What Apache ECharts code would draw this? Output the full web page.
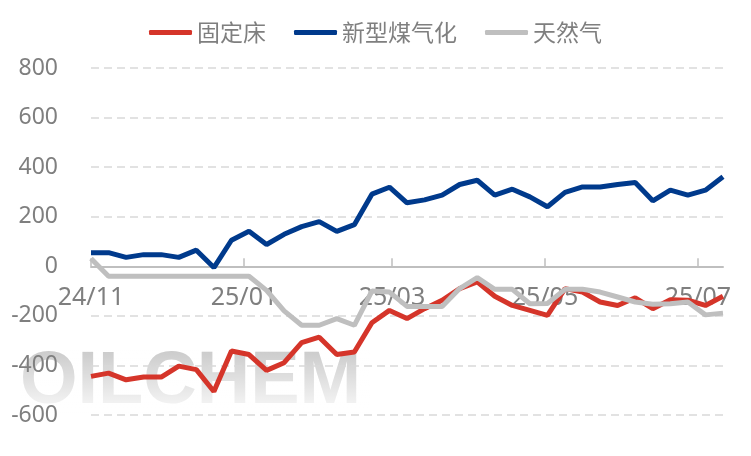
<!DOCTYPE html>
<html>
<head>
<meta charset="utf-8">
<script src="https://cdn.jsdelivr.net/npm/echarts@6/dist/echarts.min.js"></script>
<style>
html,body{margin:0;padding:0;background:#fff;}
#chart{width:751px;height:456px;}
</style>
</head>
<body>
<div id="chart"></div>
<script>
// Weekly dates
const dates = [
  '2024-11-01','2024-11-08','2024-11-15','2024-11-22','2024-11-29',
  '2024-12-06','2024-12-13','2024-12-20','2024-12-27',
  '2025-01-03','2025-01-10','2025-01-17','2025-01-24','2025-01-31',
  '2025-02-07','2025-02-14','2025-02-21','2025-02-28',
  '2025-03-07','2025-03-14','2025-03-21','2025-03-28',
  '2025-04-04','2025-04-11','2025-04-18','2025-04-25',
  '2025-05-02','2025-05-09','2025-05-16','2025-05-23','2025-05-30',
  '2025-06-06','2025-06-13','2025-06-20','2025-06-27',
  '2025-07-04','2025-07-11'
];
const seriesNames = ['固定床', '新型煤气化', '天然气'];
const fixedBed = [-444,-431,-458,-447,-447,-403,-417,-505,-342,-356,-420,-389,-308,-286,-356,-346,-228,-178,-211,-171,-137,-90,-63,-121,-158,-178,-198,-90,-104,-144,-158,-127,-171,-135,-137,-158,-121];
const newCoalGas = [55,55,36,47,47,36,65,-5,105,141,88,129,160,180,141,168,291,319,256,268,287,330,347,287,311,280,240,298,320,320,330,338,264,307,287,307,361];
const naturalGas = [31,-40,-40,-40,-40,-40,-40,-40,-40,-40,-97,-180,-238,-238,-211,-238,-100,-104,-162,-162,-162,-90,-46,-93,-93,-151,-150,-93,-93,-104,-124,-144,-153,-151,-144,-196,-189];
const tickDates = ['2024-11-01','2025-01-01','2025-03-01','2025-05-01','2025-07-01'];
const tickLabels = ['24/11','25/01','25/03','25/05','25/07'];
const yTicks = [-600,-400,-200,0,200,400,600,800];
const colors = ['#d5352a', '#003a8c', '#bfbfbf'];

function ts(s){ const p = s.split('-').map(Number); return Date.UTC(p[0], p[1]-1, p[2]) / 86400000; }
const tickTs = tickDates.map(ts);
const labelMap = {};
tickTs.forEach((t,i)=>{ labelMap[t] = tickLabels[i]; });

const W = 751, H = 456;
const gridTop = 68, gridBottom = 41;
const yMin = yTicks[0], yMax = yTicks[yTicks.length-1];
const plotH = H - gridTop - gridBottom;
// distance from grid bottom up to the zero line
const zeroOffset = plotH * (0 - yMin) / (yMax - yMin);

const values = [fixedBed, newCoalGas, naturalGas];
const chart = echarts.init(document.getElementById('chart'));
chart.setOption({
  animation: false,
  color: colors,
  textStyle: { fontFamily: '"Noto Sans", "Noto Sans CJK SC", sans-serif' },
  legend: {
    top: 16, left: 'center',
    itemWidth: 43, itemHeight: 5, itemGap: 28,
    icon: 'roundRect',
    textStyle: { fontSize: 23, color: '#7f7f7f', fontFamily: '"Noto Sans CJK SC", sans-serif' },
    data: seriesNames
  },
  graphic: {
    elements: [{
      type: 'text', left: 20, top: 346, silent: true, z: -10,
      style: {
        text: 'OILCHEM',
        fontSize: 74, fontWeight: 'bold', fontFamily: '"Liberation Sans", Arial, sans-serif',
        fill: '#cbcbcb'
      }
    }, {
      type: 'rect', silent: true, z: -9,
      shape: { x: 20, y: 350, width: 350, height: 64 },
      style: {
        fill: new echarts.graphic.LinearGradient(0, 0, 0, 1, [
          { offset: 0, color: 'rgba(255,255,255,0)' },
          { offset: 1, color: 'rgba(255,255,255,0.9)' }
        ])
      }
    }]
  },
  grid: { left: 91, right: 28, top: gridTop, bottom: gridBottom, containLabel: false },
  xAxis: {
    type: 'value',
    min: ts(dates[0]), max: ts(dates[dates.length-1]),
    position: 'bottom',
    offset: -zeroOffset,
    z: 3,
    axisLine: { onZero: false, lineStyle: { color: '#bfbfbf', width: 2 } },
    axisTick: { show: true, inside: true, length: 8, customValues: tickTs, lineStyle: { color: '#bfbfbf', width: 1.5 } },
    axisLabel: {
      customValues: tickTs, margin: 19, fontSize: 25, color: '#7f7f7f',
      formatter: function(v){ return labelMap[v] || ''; }
    },
    splitLine: { show: false }
  },
  yAxis: {
    type: 'value', min: yMin, max: yMax, interval: 200,
    axisLine: { show: false, onZero: false }, axisTick: { show: false },
    axisLabel: { fontSize: 23, color: '#7f7f7f', margin: 33 },
    splitLine: { lineStyle: { color: '#d9d9d9', width: 1.5, type: [8,5] } }
  },
  series: seriesNames.map((n,i)=>({
    name: n, type: 'line', symbol: 'none', smooth: false, z: 5,
    lineStyle: { width: 5, color: colors[i] },
    data: dates.map((d,j)=>[ts(d), values[i][j]])
  }))
});
</script>
</body>
</html>
